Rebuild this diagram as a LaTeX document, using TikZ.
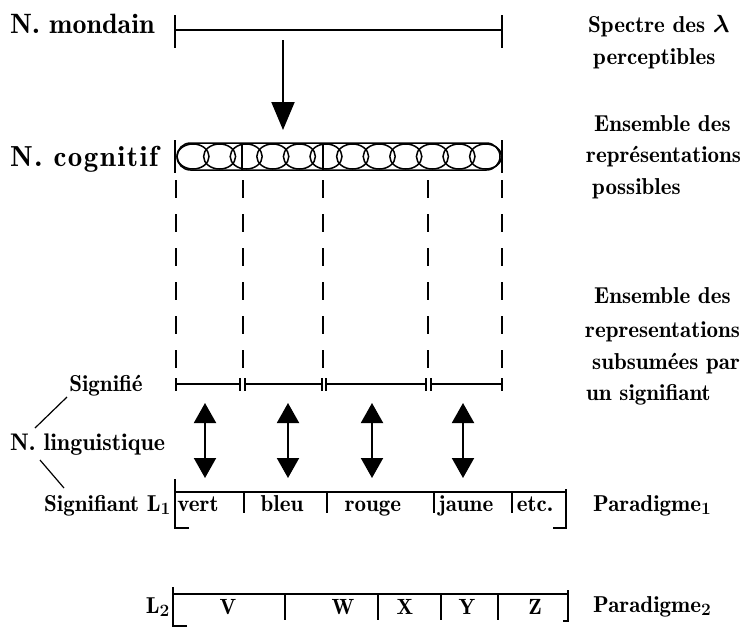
\documentclass[tikz,border=0pt]{standalone}
\usepackage{fontspec}
\newfontfamily\heavy{lmromandemi10-regular}[Extension=.otf]
\newfontfamily\heavysp{lmromandemi10-regular}[Extension=.otf,LetterSpace=5]
\usetikzlibrary{arrows.meta}
\begin{document}
\begin{tikzpicture}[x=1pt,y=-1pt,
  txt/.style={inner sep=0pt, anchor=base west},
  big/.style={txt, font=\boldmath\heavy\fontsize{28}{34}\selectfont},
  mid/.style={txt, font=\boldmath\heavy\fontsize{24}{30}\selectfont},
  rlab/.style={txt, font=\boldmath\heavy\fontsize{23}{29}\selectfont},
  small/.style={inner sep=0pt, anchor=base, font=\boldmath\heavy\fontsize{23}{28}\selectfont},
  cell/.style={inner sep=0pt, anchor=base, font=\boldmath\heavy\fontsize{22}{27}\selectfont},
  bar/.style={line width=1.5pt},
  tick/.style={line width=2.5pt},
  dashline/.style={line width=2pt, dash pattern=on 18pt off 16pt},
  arr/.style={line width=2pt, -{Triangle[width=23pt,length=28pt]}},
  darr/.style={line width=2pt, {Triangle[width=22pt,length=20pt]}-{Triangle[width=22pt,length=20pt]}},
  sepline/.style={line width=2.5pt},
  thin/.style={line width=1.2pt},
]
\useasboundingbox (0,0) rectangle (747,630);

% left labels
\node[big] (mondain) at (10,33) {N. mondain};
\node[big, font=\boldmath\heavysp\fontsize{29}{34}\selectfont] (cognitif) at (10,166) {N. cognitif};
\node[small] (signifie) at (106,391) {Signifié};
\node[mid] (ling) at (10,450) {N. linguistique};
\node[small, anchor=base east] (sigL1) at (171,511) {Signifiant L$_1$};
\node[small, anchor=base east] (L2) at (170,613) {L$_2$};

% lines from N. linguistique
\coordinate (la1) at (35,428); \coordinate (lb1) at (67,397);
\coordinate (la2) at (40,460); \coordinate (lb2) at (64,488);
\draw[thin] (la1) -- (lb1);
\draw[thin] (la2) -- (lb2);

% right labels
\node[rlab] (r1) at (588,32) {Spectre des $\lambda$};
\node[rlab] (r2) at (593,64) {perceptibles};
\node[rlab] (r3) at (594,131) {Ensemble des};
\node[rlab] (r4) at (586,162) {représentations};
\node[rlab] (r5) at (592,194) {possibles};
\node[rlab] (r6) at (594,303) {Ensemble des};
\node[rlab] (r7) at (585,337) {representations};
\node[rlab] (r8) at (592,369) {subsumées par};
\node[rlab] (r9) at (586,400) {un signifiant};
\node[rlab] (p1) at (593,511) {Paradigme$_1$};
\node[rlab] (p2) at (593,612) {Paradigme$_2$};

% top bar (monde)
\coordinate (m1) at (175,30); \coordinate (m2) at (502,30);
\draw[bar] (m1) -- (m2);
\draw[tick] (175,15) -- (175,48);
\draw[tick] (502,15) -- (502,48);

% arrow down
\coordinate (a0) at (283,40); \coordinate (a1) at (283,130);
\draw[arr] (a0) -- (a1);

% cognitive bar
\draw[bar, rounded corners=13.5pt] (177,143) rectangle (500,170);
\draw[tick] (175,140) -- (175,173);
\draw[tick] (502,140) -- (502,173);
\foreach \i in {0,...,11}
  \draw[line width=1.5pt] ({193+26.6*\i},156.5) ellipse [x radius=16pt, y radius=12.5pt];
\draw[line width=1.5pt] (242,143) -- (242,170);
\draw[line width=1.5pt] (323,143) -- (323,170);

% dashed lines
\foreach \x in {176,243,323,428,502}
  \draw[dashline] (\x,180) -- (\x,372);

% signifie bar
\foreach \a/\b in {176/240,245/322,326/426,431/502} {
  \draw[bar] (\a,384) -- (\b,384);
  \draw[line width=2pt] (\a,378) -- (\a,391);
  \draw[line width=2pt] (\b,378) -- (\b,391);
}

% double arrows
\foreach \x in {205,288,372,463} {
  \coordinate (u\x) at (\x,403);
  \coordinate (d\x) at (\x,478);
  \draw[darr] (u\x) -- (d\x);
}

% paradigm 1
\draw[bar] (175,492) -- (566,492);
\draw[line width=2pt] (189,528) -- (175,528) -- (175,479);
\draw[line width=2pt] (553,528) -- (566,528) -- (566,489);
\foreach \x in {244,327,434,512}
  \draw[sepline] (\x,492) -- (\x,513);
\node[small] (vert) at (198,511) {vert};
\node[small] (bleu) at (282,511) {bleu};
\node[small] (rouge) at (373,511) {rouge};
\node[small] (jaune) at (466,511) {jaune};
\node[small] (etc) at (535,511) {etc.};

% paradigm 2
\draw[bar] (173,594) -- (568,594);
\draw[line width=2pt] (187,626) -- (173,626) -- (173,587);
\draw[line width=2pt] (563,621) -- (568,621) -- (568,590);
\foreach \x in {285,378,441,498}
  \draw[line width=2pt] (\x,594) -- (\x,620);
\node[cell] (V) at (228,614) {V};
\node[cell] (W) at (343,614) {W};
\node[cell] (X) at (405,614) {X};
\node[cell] (Y) at (467,614) {Y};
\node[cell] (Z) at (535,614) {Z};
\end{tikzpicture}
\end{document}
